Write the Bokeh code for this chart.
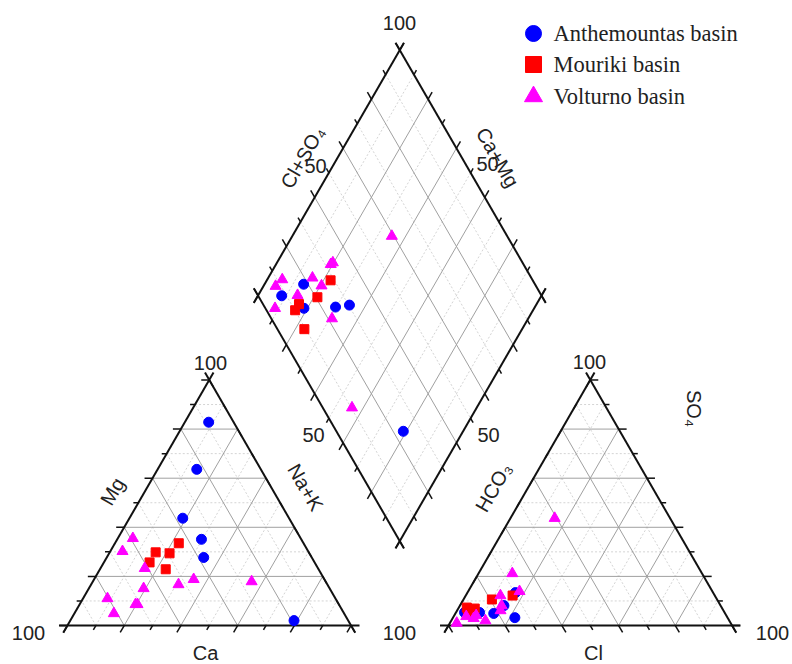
import numpy as np
from bokeh.plotting import figure
from bokeh.models import Range1d, Label
from bokeh.embed import file_html
from bokeh.resources import INLINE

# ---------------- data (percent, meq-based) ----------------
legend_labels = ["Anthemountas basin", "Mouriki basin", "Volturno basin"]
colors = ["#0000FF", "#FF0000", "#FF00FF"]
markers = ["circle", "square", "triangle"]
marker_sizes = [10, 9, 11]

# Anthemountas basin
anth_ca = [8.8, 22.6, 37.5, 35.2, 38.1, 19.1]
anth_mg = [82.8, 63.6, 43.7, 35.1, 27.7, 2.0]
anth_nak = [8.4, 13.8, 18.8, 29.7, 34.2, 78.9]
anth_hco3 = [91.7, 81.6, 86.4, 75.0, 69.7, 76.4]
anth_cl = [3.0, 13.5, 8.3, 21.8, 16.9, 15.5]
anth_so4 = [5.3, 4.9, 5.3, 3.2, 13.4, 8.1]

# Mouriki basin
mour_ca = [44.0, 54.0, 49.3, 58.2, 53.9]
mour_mg = [33.5, 29.8, 29.4, 25.7, 22.9]
mour_nak = [22.5, 16.2, 21.3, 16.1, 23.2]
mour_hco3 = [71.3, 87.3, 79.4, 89.9, 90.5]
mour_cl = [16.5, 5.8, 10.0, 2.8, 4.2]
mour_so4 = [12.2, 6.9, 10.6, 7.3, 5.3]

# Volturno basin
volt_ca = [59.2, 65.5, 61.1, 65.6, 52.5, 46.1, 26.1, 80.4, 71.7, 71.0, 81.2]
volt_mg = [35.5, 30.2, 23.3, 15.1, 16.7, 18.8, 17.9, 11.0, 8.6, 8.6, 4.9]
volt_nak = [5.3, 4.3, 15.6, 19.3, 30.8, 35.1, 56.0, 8.6, 19.7, 20.4, 13.9]
volt_hco3 = [88.2, 91.9, 77.2, 68.0, 78.6, 40.7, 89.7, 96.6, 66.9, 75.6, 86.0]
volt_cl = [7.7, 4.4, 14.7, 18.1, 15.3, 15.6, 7.4, 2.4, 11.9, 12.2, 12.0]
volt_so4 = [4.1, 3.7, 8.1, 13.9, 6.1, 43.7, 2.9, 1.0, 21.2, 12.2, 2.0]

groups = [
    (anth_ca, anth_mg, anth_nak, anth_hco3, anth_cl, anth_so4),
    (mour_ca, mour_mg, mour_nak, mour_hco3, mour_cl, mour_so4),
    (volt_ca, volt_mg, volt_nak, volt_hco3, volt_cl, volt_so4),
]

# ---------------- geometry ----------------
S3 = np.sqrt(3.0)
H = S3 / 2
GAP = 0.344
X0 = 1.0 + GAP            # left vertex of anion triangle
SCALE = 283.5             # px per unit
OX, OY = 67.0, 625.0      # page position of cation triangle left vertex
W, HGT = 792, 664

x_start = (0 - OX) / SCALE
x_end = x_start + W / SCALE
y_end = (OY - 0) / SCALE
y_start = y_end - HGT / SCALE


def pg(px, py):
    return (px - OX) / SCALE, (OY - py) / SCALE


def cation_xy(ca, mg, na):
    ca, mg, na = map(np.asarray, (ca, mg, na))
    tot = ca + mg + na
    return (na + mg / 2) / tot, mg / tot * H


def anion_xy(hco3, cl, so4):
    hco3, cl, so4 = map(np.asarray, (hco3, cl, so4))
    tot = hco3 + cl + so4
    return X0 + (cl + so4 / 2) / tot, so4 / tot * H


def diamond_pos(n, h):
    n = np.asarray(n, dtype=float)
    h = np.asarray(h, dtype=float)
    return (n + X0 + 1 - h) / 2, S3 * (X0 + 1 - h - n) / 2


def diamond_xy(ca, mg, na, hco3, cl, so4):
    ca, mg, na = map(np.asarray, (ca, mg, na))
    hco3, cl, so4 = map(np.asarray, (hco3, cl, so4))
    n = na / (ca + mg + na)
    h = hco3 / (hco3 + cl + so4)
    return diamond_pos(n, h)


p = figure(width=W, height=HGT, output_backend="svg", toolbar_location=None,
           x_axis_type=None, y_axis_type=None,
           x_range=Range1d(x_start, x_end), y_range=Range1d(y_start, y_end),
           min_border=0, outline_line_color=None)
p.xgrid.visible = False
p.ygrid.visible = False

solid = {"x0": [], "y0": [], "x1": [], "y1": []}
dotted = {"x0": [], "y0": [], "x1": [], "y1": []}
ticks = {"x0": [], "y0": [], "x1": [], "y1": []}
edges = {"x0": [], "y0": [], "x1": [], "y1": []}


def add(d, a, b):
    d["x0"].append(a[0]); d["y0"].append(a[1])
    d["x1"].append(b[0]); d["y1"].append(b[1])


def lerp(a, b, t):
    return (a[0] + (b[0] - a[0]) * t, a[1] + (b[1] - a[1]) * t)


EXT = 0.03
MAJ = 8 / SCALE
MIN = 5 / SCALE


def edge(a, b):
    dx, dy = b[0] - a[0], b[1] - a[1]
    L = np.hypot(dx, dy)
    ux, uy = dx / L, dy / L
    add(edges, (a[0] - ux * EXT, a[1] - uy * EXT), (b[0] + ux * EXT, b[1] + uy * EXT))


def tick_row(a, b, ang):
    c, s = np.cos(np.radians(ang)), np.sin(np.radians(ang))
    for k in range(11):
        pt = lerp(a, b, k / 10)
        ln = MAJ if k % 2 == 0 else MIN
        add(ticks, pt, (pt[0] + c * ln, pt[1] + s * ln))


def triangle(ox, mirror=False):
    A = (ox, 0.0)
    B = (ox + 1.0, 0.0)
    C = (ox + 0.5, H)
    for k in range(1, 10):
        t = k / 10
        d = solid if k % 2 == 0 else dotted
        add(d, lerp(A, C, t), lerp(B, C, t))
        add(d, lerp(A, B, t), lerp(C, B, t))
        add(d, lerp(B, A, t), lerp(C, A, t))
    edge(A, B); edge(A, C); edge(B, C)
    if not mirror:
        tick_row(A, B, 240); tick_row(A, C, 180); tick_row(B, C, 300)
    else:
        tick_row(A, B, 300); tick_row(A, C, 240); tick_row(B, C, 0)


triangle(0.0)
triangle(X0, mirror=True)

# diamond
def dp(n, h):
    x, y = diamond_pos(n, h)
    return (float(x), float(y))

for k in range(1, 10):
    t = k / 10
    d = solid if k % 2 == 0 else dotted
    add(d, dp(t, 0), dp(t, 1))
    add(d, dp(0, t), dp(1, t))
Lv, Tv, Rv, Bv = dp(0, 1), dp(0, 0), dp(1, 0), dp(1, 1)
edge(Lv, Tv); edge(Tv, Rv); edge(Rv, Bv); edge(Bv, Lv)
tick_row(Lv, Tv, 120); tick_row(Rv, Tv, 60); tick_row(Bv, Lv, 240); tick_row(Bv, Rv, 300)

p.segment(**dotted, line_color="#d4d4d4", line_width=1, line_dash="2 2")
p.segment(**solid, line_color="#a0a0a0", line_width=1)
p.segment(**edges, line_color="#111111", line_width=2)
p.segment(**ticks, line_color="#111111", line_width=1.5)

# ---------------- points ----------------
for (ca, mg, na, hc, cl, so), col, mk, sz in zip(groups, colors, markers, marker_sizes):
    cx, cy = cation_xy(ca, mg, na)
    ax, ay = anion_xy(hc, cl, so)
    dx, dy = diamond_xy(ca, mg, na, hc, cl, so)
    for xx, yy in ((cx, cy), (ax, ay), (dx, dy)):
        p.scatter(x=list(xx), y=list(yy), marker=mk, size=sz,
                  fill_color=col, line_color=col)

# ---------------- texts ----------------
SANS = "Liberation Sans"
labels = [
    ("100", 210, 362, 0), ("100", 28, 632, 0), ("Ca", 205, 652, 0),
    ("Mg", 112, 491, 60), ("Na+K", 305, 487, -60), ("50", 313, 434, 0),
    ("100", 399, 632, 0), ("100", 589, 361, 0), ("100", 772, 632, 0),
    ("Cl", 593, 652, 0), ("HCO\u2083", 493, 487, 60), ("SO\u2084", 693, 408, -90),
    ("50", 488, 434, 0), ("100", 399, 22, 0), ("Cl+SO\u2084", 302, 157, 60),
    ("50", 315, 165, 0), ("Ca+Mg", 497, 157, -60), ("50", 487, 163, 0),
]
for txt, px, py, ang in labels:
    x, y = pg(px, py)
    p.add_layout(Label(x=x, y=y, text=txt, angle=ang, angle_units="deg",
                       text_align="center", text_baseline="middle",
                       text_font=SANS, text_font_size="20px", text_color="#222222"))

# legend
leg_y = [33, 64, 96]
for lab, col, mk, ly in zip(legend_labels, colors, markers, leg_y):
    mx, my = pg(533, ly)
    p.scatter(x=[mx], y=[my], marker=mk, size=16 if mk != "triangle" else 18,
              fill_color=col, line_color=col)
    tx, ty = pg(553, ly)
    p.add_layout(Label(x=tx, y=ty, text=lab, text_align="left", text_baseline="middle",
                       text_font="Liberation Serif", text_font_size="22.5px",
                       text_color="#222222"))

open("out.html", "w").write(file_html(p, INLINE))
